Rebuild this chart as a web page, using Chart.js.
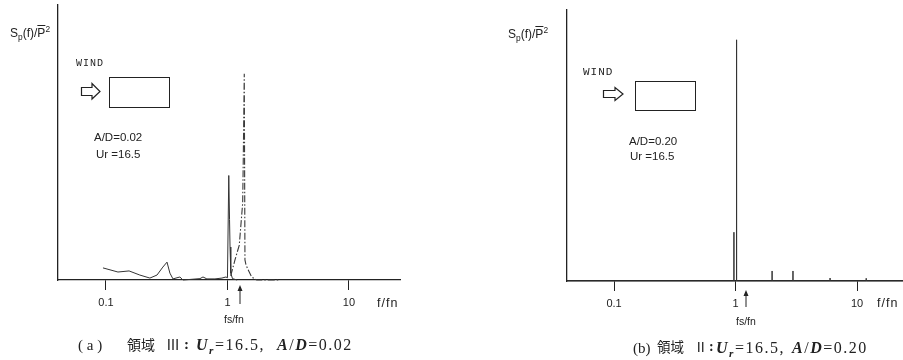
<!DOCTYPE html>
<html>
<head>
<meta charset="utf-8">
<script src="https://cdn.jsdelivr.net/npm/chart.js@4.4.1/dist/chart.umd.min.js"></script>
<style>
  body { margin: 0; background: #fff; }
  #wrap { position: relative; width: 903px; height: 360px; overflow: hidden; font-family: "Liberation Sans", sans-serif; color: #222; }
  canvas { position: absolute; top: 0; }
  .t { position: absolute; white-space: nowrap; line-height: 1; }
  .mono { font-family: "Liberation Mono", monospace; letter-spacing: 1px; }
  .box { position: absolute; border: 1.5px solid #222; box-sizing: border-box; }
  .cap { font-family: "Liberation Serif", "Noto Sans CJK JP", serif; }
  .cap i { font-style: italic; font-weight: bold; }
  .num { font-size: 16px; letter-spacing: 1.5px; }
  .jp { font-family: "Noto Sans CJK JP", sans-serif; }
  sub, sup { font-size: 70%; line-height: 0; }
  .ov { text-decoration: overline; }
  svg { position: absolute; overflow: visible; }
</style>
</head>
<body>
<div id="wrap">
  <canvas id="chartA" width="450" height="330" style="left:0"></canvas>
  <canvas id="chartB" width="453" height="330" style="left:450px"></canvas>

  <!-- panel (a) texts -->
  <div class="t" style="left:10px;top:27px;font-size:12px">S<sub>p</sub>(f)/<span class="ov">P</span><sup>2</sup></div>
  <div class="t mono" style="left:76px;top:59px;font-size:10px">WIND</div>
  <svg style="left:81px;top:83px" width="20" height="17"><polygon points="0.5,4.5 11,4.5 11,0.5 19,8.5 11,16 11,12.5 0.5,12.5" fill="none" stroke="#222" stroke-width="1.2"/></svg>
  <div class="box" style="left:109px;top:77px;width:61px;height:31px"></div>
  <div class="t" style="left:94px;top:132px;font-size:11.5px">A/D=0.02</div>
  <div class="t" style="left:96px;top:149px;font-size:11.5px">Ur =16.5</div>
  <div class="t" style="left:377px;top:297px;font-size:12.5px;letter-spacing:1px">f/fn</div>
  <svg style="left:236px;top:285px" width="8" height="20"><line x1="4" y1="2" x2="4" y2="19" stroke="#222" stroke-width="1"/><polygon points="4,0 1.5,6 6.5,6" fill="#222"/></svg>
  <div class="t" style="left:224px;top:314px;font-size:10.5px">fs/fn</div>
  <div class="t cap" style="left:78px;top:338px;font-size:15px">( a )</div>
  <div class="t cap jp" style="left:127px;top:337px;font-size:14px">領域</div>
  <div class="t cap jp" style="left:166px;top:337px;font-size:14px">Ⅲ</div>
  <div class="t cap" style="left:184px;top:337px;font-size:15px;font-weight:bold">:</div>
  <div class="t cap num" style="left:196px;top:337px"><i>U<sub>r</sub></i>=16.5,</div>
  <div class="t cap num" style="left:277px;top:337px"><i>A</i>/<i>D</i>=0.02</div>

  <!-- panel (b) texts -->
  <div class="t" style="left:508px;top:28px;font-size:12px">S<sub>p</sub>(f)/<span class="ov">P</span><sup>2</sup></div>
  <div class="t mono" style="left:583px;top:67px;font-size:11px">WIND</div>
  <svg style="left:603px;top:87px" width="21" height="14"><polygon points="0.5,3.5 12,3.5 12,0.5 20,7 12,13.5 12,10.5 0.5,10.5" fill="none" stroke="#222" stroke-width="1.2"/></svg>
  <div class="box" style="left:635px;top:81px;width:61px;height:30px"></div>
  <div class="t" style="left:629px;top:136px;font-size:11.5px">A/D=0.20</div>
  <div class="t" style="left:630px;top:151px;font-size:11.5px">Ur =16.5</div>
  <div class="t" style="left:877px;top:297px;font-size:12.5px;letter-spacing:1px">f/fn</div>
  <svg style="left:742px;top:290px" width="8" height="20"><line x1="4" y1="2" x2="4" y2="17" stroke="#222" stroke-width="1"/><polygon points="4,0 1.5,6 6.5,6" fill="#222"/></svg>
  <div class="t" style="left:736px;top:316px;font-size:10.5px">fs/fn</div>
  <div class="t cap" style="left:633px;top:341px;font-size:15px">(b)</div>
  <div class="t cap jp" style="left:657px;top:340px;font-size:13.5px">領域</div>
  <div class="t cap jp" style="left:694px;top:340px;font-size:13.5px">Ⅱ</div>
  <div class="t cap" style="left:709px;top:340px;font-size:14px;font-weight:bold">:</div>
  <div class="t cap num" style="left:716px;top:340px"><i>U<sub>r</sub></i>=16.5,</div>
  <div class="t cap num" style="left:792px;top:340px"><i>A</i>/<i>D</i>=0.20</div>
</div>

<script>
// tick labels on the f/fn axis
const tickValues = [0.1, 1, 10];

// (a) A/D=0.02 : solid line (low frequency part and spike near f/fn = 1)
const freqA = [0.0945, 0.1255, 0.155, 0.19, 0.23, 0.263, 0.294, 0.318, 0.336, 0.356, 0.406, 0.43, 0.594, 0.629, 0.677, 0.789, 0.901, 0.972, 1.0, 1.025, 1.04, 1.05, 1.065, 1.1, 1.2];
const specA = [4.4, 2.9, 3.3, 1.8, 0.7, 1.8, 4.7, 6.5, 2.5, 0.4, 1.1, 0, 0.5, 1.1, 0.4, 0.4, 0.7, 1.1, 0.8, 38, 22, 12, 2.5, 0.5, 0];

// (a) dash-dot line (peak at fs/fn)
const freqA2 = [1.063, 1.153, 1.251, 1.334, 1.349, 1.375, 1.393, 1.42, 1.483, 1.581, 1.74, 2.7];
const specA2 = [1.5, 7.3, 12.7, 28, 43.6, 75, 7.3, 5.5, 3.6, 1.1, 0, 0];

// (b) A/D=0.20 : line spectrum
const freqB = [0.041, 0.5, 0.97, 0.97, 0.97, 1.02, 1.02, 1.02, 1.5, 2.0, 2.0, 2.0, 2.97, 2.97, 2.97, 6.0, 6.0, 6.0, 11.9, 11.9, 11.9, 23.9];
const specB = [0, 0, 0, 18, 0, 0, 89, 0, 0, 0, 3.7, 0, 0, 3.7, 0, 0, 1.1, 0, 0, 1, 0, 0];

const ink = "#222";

function pts(xs, ys) {
  return xs.map((x, i) => ({ x: x, y: ys[i] }));
}

function makeChart(id, datasets, xMin, xMax, pad) {
  return new Chart(document.getElementById(id), {
    type: "scatter",
    data: { datasets: datasets },
    options: {
      responsive: false,
      animation: false,
      events: [],
      layout: { padding: pad },
      plugins: { legend: { display: false }, tooltip: { enabled: false } },
      scales: {
        x: {
          type: "logarithmic",
          min: xMin,
          max: xMax,
          afterBuildTicks: (s) => { s.ticks = tickValues.map((v) => ({ value: v })); },
          afterFit: (s) => { s.height = 40; },
          ticks: {
            autoSkip: false,
            maxRotation: 0,
            padding: 6,
            color: ink,
            font: { family: "Liberation Sans", size: 11 },
            callback: (v) => String(v),
          },
          grid: { drawOnChartArea: false, drawTicks: true, tickLength: 10, color: ink, lineWidth: 1 },
          border: { color: ink, width: 1.3 },
        },
        y: {
          min: 0,
          max: 100,
          afterFit: (s) => { s.width = 0; },
          ticks: { display: false },
          grid: { display: false },
          border: { color: ink, width: 1.3 },
        },
      },
    },
  });
}

makeChart("chartA", [
  { data: pts(freqA, specA), showLine: true, pointRadius: 0, borderColor: "#333", borderWidth: 1, clip: false },
  { data: pts(freqA2, specA2), showLine: true, pointRadius: 0, borderColor: "#3a3a3a", borderWidth: 1.1, borderDash: [7, 2, 1.5, 2], clip: false },
], 0.0403, 26.3, { left: 58, top: 5, right: 50, bottom: 10 });

makeChart("chartB", [
  { data: pts(freqB, specB), showLine: true, pointRadius: 0, borderColor: "#333", borderWidth: 1, clip: false },
], 0.041, 23.9, { left: 117, top: 10, right: 0, bottom: 9 });
</script>
</body>
</html>
